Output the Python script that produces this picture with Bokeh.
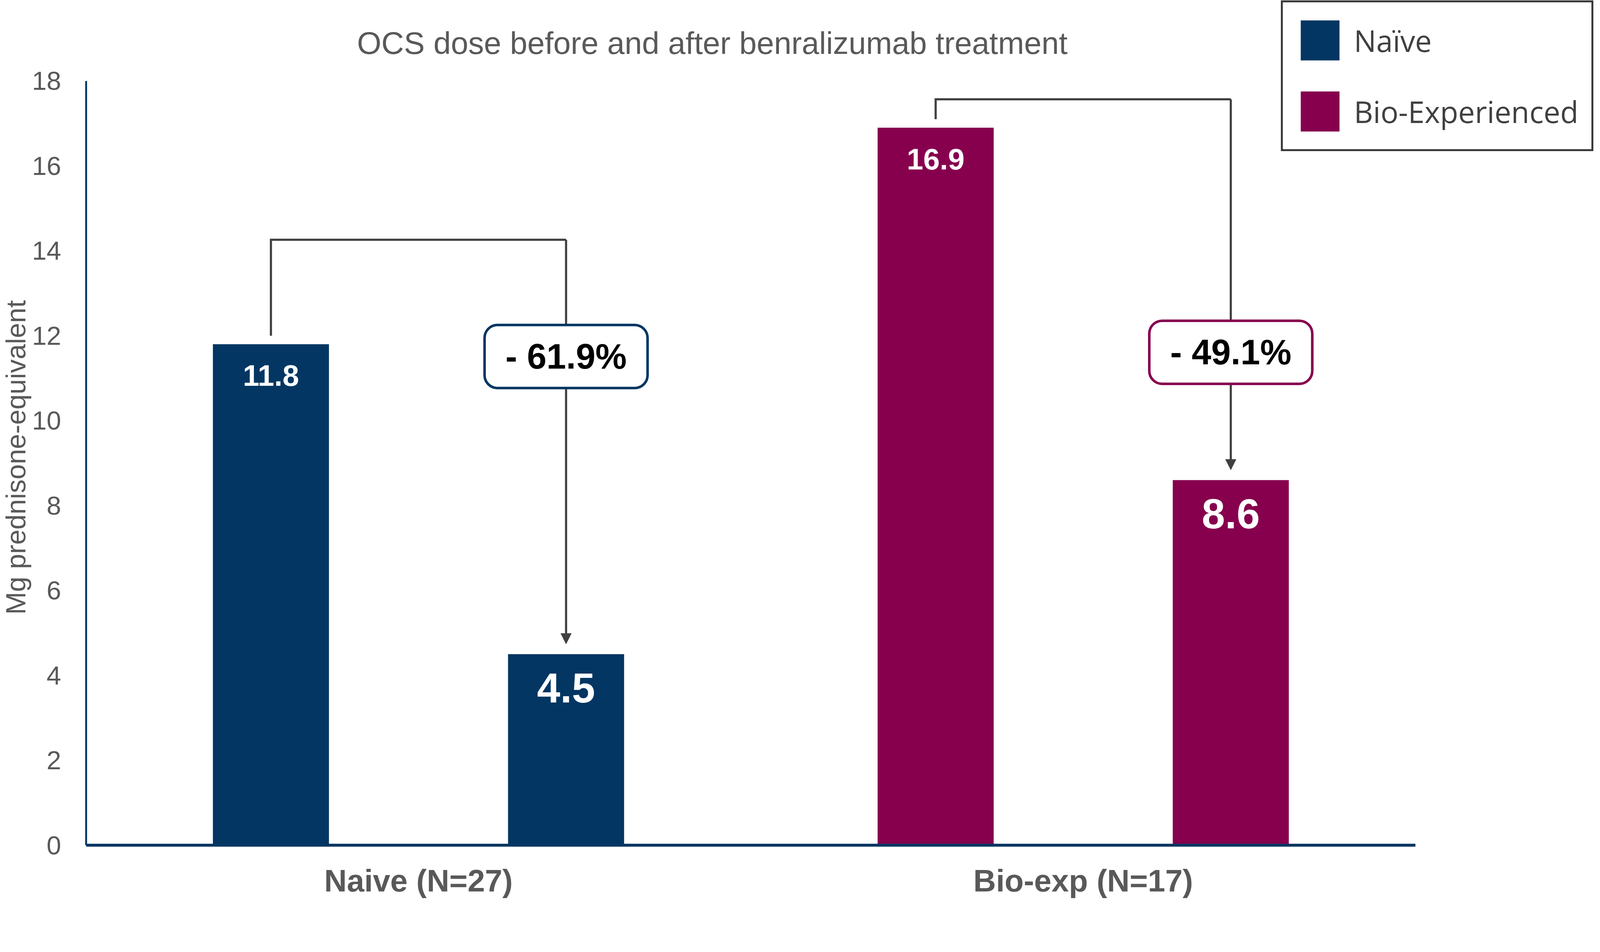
from bokeh.plotting import figure
from bokeh.models import (Range1d, FixedTicker, Label, BoxAnnotation, Arrow,
                          NormalHead, ColumnDataSource, Title)
from bokeh.embed import file_html
from bokeh.resources import INLINE

# ---------------- data ----------------
groups = ["Naive (N=27)", "Bio-exp (N=17)"]
legend_labels = ["Naïve", "Bio-Experienced"]
before = [11.8, 16.9]
after = [4.5, 8.6]
y_ticks = [0, 2, 4, 6, 8, 10, 12, 14, 16, 18]
title_text = "OCS dose before and after benralizumab treatment"
y_label = "Mg prednisone-equivalent"

# ---------------- styles / layout ----------------
colors = ["#033662", "#86004E"]
gray_text = "#595959"
line_gray = "#404040"
ARIAL = "Liberation Sans"
bar_offset = 0.222
bar_width = 0.1746
bracket_levels = [14.26, 17.57]
box_centers = [11.51, 11.61]
box_half_w = 0.1226
box_half_h = 0.743

p = figure(width=4090, height=2302,
           x_range=Range1d(0, 2.2742), y_range=Range1d(0, 19.903),
           output_backend="svg", toolbar_location=None,
           min_border_left=220, min_border_right=0,
           min_border_top=0, min_border_bottom=134)
p.outline_line_color = None
p.xgrid.visible = False
p.ygrid.visible = False
p.background_fill_color = "white"

# axes
p.xaxis.ticker = FixedTicker(ticks=[i + 0.5 for i in range(len(groups))])
p.xaxis.major_label_overrides = {i + 0.5: g for i, g in enumerate(groups)}
p.xaxis.bounds = (0, 2)
p.xaxis.axis_line_color = colors[0]
p.xaxis.axis_line_width = 7.5
p.xaxis.major_tick_line_color = None
p.xaxis.minor_tick_line_color = None
p.xaxis.major_label_standoff = 40
p.xaxis.major_label_text_font = ARIAL
p.xaxis.major_label_text_font_style = "bold"
p.xaxis.major_label_text_font_size = "80px"
p.xaxis.major_label_text_color = gray_text

p.yaxis.ticker = FixedTicker(ticks=y_ticks)
p.yaxis.bounds = (0, 18)
p.yaxis.axis_line_color = colors[0]
p.yaxis.axis_line_width = 4.8
p.yaxis.major_tick_line_color = None
p.yaxis.minor_tick_line_color = None
p.yaxis.major_label_standoff = 58
p.yaxis.major_label_text_font = ARIAL
p.yaxis.major_label_text_font_size = "67px"
p.yaxis.major_label_text_color = gray_text

# y-axis title, placed in the left panel
p.add_layout(Title(text=y_label, align="right", offset=768, standoff=-6,
                   vertical_align="top", text_font=ARIAL,
                   text_font_style="normal", text_font_size="70px",
                   text_color=gray_text), "left")

# bars + value labels
lab_x, lab_y, lab_t, lab_fs, lab_off = [], [], [], [], []
for i, g in enumerate(groups):
    c = i + 0.5
    xs = [c - bar_offset, c + bar_offset]
    tops = [before[i], after[i]]
    p.vbar(x=xs, top=tops, width=bar_width, bottom=0,
           fill_color=colors[i], line_color=None,
           legend_label=legend_labels[i])
    lab_x += xs
    lab_y += tops
    lab_t += [f"{before[i]:.1f}", f"{after[i]:.1f}"]
    lab_fs += ["76px", "107px"]
    lab_off += [80, 86]

lsrc = ColumnDataSource(dict(x=lab_x, y=lab_y, t=lab_t, fs=lab_fs, off=lab_off))
p.text(x="x", y="y", text="t", source=lsrc, y_offset="off",
       text_font_size="fs", text_color="white", text_font_style="bold",
       text_align="center", text_baseline="middle",
       text_font={"value": ARIAL})

# brackets, arrows, percentage boxes
for i in range(len(groups)):
    c = i + 0.5
    xb, xa = c - bar_offset, c + bar_offset
    lvl = bracket_levels[i]
    p.line(x=[xb, xb, xa], y=[before[i] + 0.2, lvl, lvl],
           line_color=line_gray, line_width=5.5, line_join="miter")
    p.add_layout(Arrow(end=NormalHead(size=27, fill_color=line_gray,
                                      line_color=line_gray, line_width=1),
                       x_start=xa, y_start=lvl, x_end=xa, y_end=after[i] + 0.24,
                       line_color=line_gray, line_width=5.5))
    bc = box_centers[i]
    p.add_layout(BoxAnnotation(left=xa - box_half_w, right=xa + box_half_w,
                               bottom=bc - box_half_h, top=bc + box_half_h,
                               fill_color="white", fill_alpha=1.0,
                               line_color=colors[i], line_width=6.5,
                               line_alpha=1.0, border_radius=33))
    pct = (after[i] - before[i]) / before[i] * 100
    p.add_layout(Label(x=xa, y=bc, text=f"- {abs(pct):.1f}%",
                       text_align="center", text_baseline="middle",
                       text_font=ARIAL, text_font_style="bold",
                       text_font_size="90px", text_color="black"))

# chart title
p.add_layout(Label(x=0.942, y=18.89, text=title_text, text_align="center",
                   text_baseline="alphabetic", text_font=ARIAL,
                   text_font_size="80px", text_color=gray_text))

# legend (location = bottom-left corner, relative to the frame)
lg = p.legend[0]
lg.location = (3059, 1777)
lg.padding = 33
lg.spacing = 54
lg.margin = 0
lg.glyph_width = 124
lg.glyph_height = 128
lg.label_height = 128
lg.label_standoff = 25
lg.label_text_font = "Open Sans"
lg.label_text_font_size = "76px"
lg.label_text_color = line_gray
lg.border_line_color = "#3a3a3a"
lg.border_line_width = 5
lg.border_line_alpha = 1.0
lg.background_fill_color = "white"
lg.background_fill_alpha = 1.0

open("out.html", "w").write(file_html(p, INLINE))
